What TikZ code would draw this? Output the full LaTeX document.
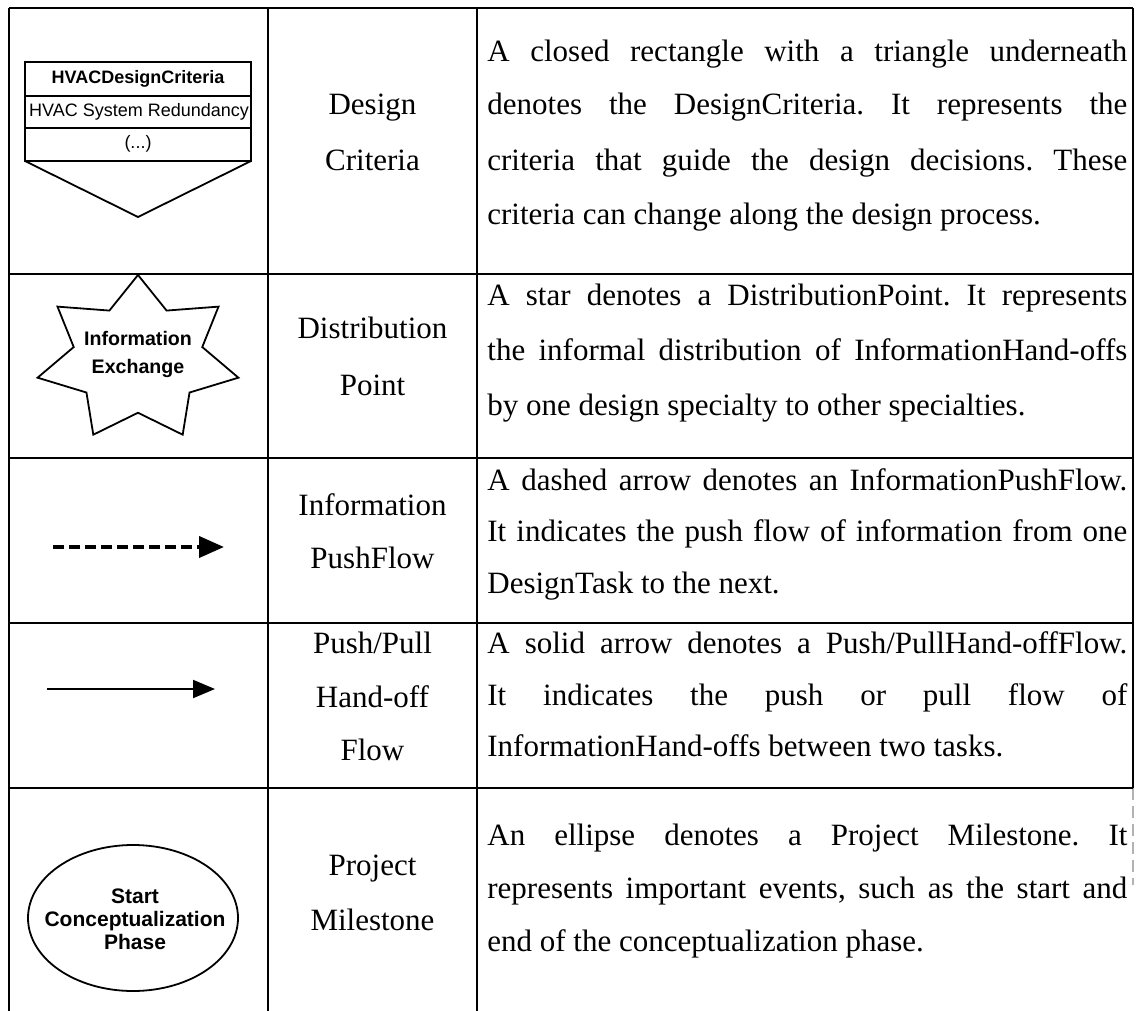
\documentclass[tikz,border=0pt]{standalone}
\usepackage{fontspec}
\setmainfont{Liberation Serif}
\newfontfamily\sansf{Liberation Sans}
\usetikzlibrary{arrows.meta,shapes.geometric}
\newcommand{\jl}[1]{\makebox[320pt][s]{#1}}
\frenchspacing
\begin{document}
\begin{tikzpicture}[x=0.5pt,y=-0.5pt,
  gridline/.style={line width=1.2pt,black},
  shapeline/.style={line width=0.9pt,black},
  body/.style={inner sep=0pt,font=\fontsize{15.5pt}{18pt}\selectfont},
  bodyl/.style={body,anchor=base west},
  bodyc/.style={body,anchor=base},
  sansreg/.style={inner sep=0pt,font=\sansf\fontsize{9pt}{10pt}\selectfont},
  sansbold/.style={inner sep=0pt,font=\sansf\bfseries\fontsize{9pt}{10pt}\selectfont},
  dasharrow/.style={line width=2pt,dash pattern=on 5.3pt off 2.7pt,-{Triangle[length=12.5pt,width=10.5pt]}},
  solidarrow/.style={line width=1pt,-{Triangle[length=11pt,width=9pt]}}]
\useasboundingbox (0,0) rectangle (1136,1011);
% grid
\draw[gridline] (9,8) -- (1133,8);
\draw[gridline] (9,1011) -- (9,8);
\draw[gridline] (268,1011) -- (268,8);
\draw[gridline] (477,1011) -- (477,8);
\draw[gridline] (1133,8) -- (1133,788);
\draw[gray!60,line width=0.6pt,dash pattern=on 6pt off 3pt] (1133,788) -- (1133,885);
\foreach \yy in {274,458,623,788} {\draw[gridline] (9,\yy) -- (1133,\yy);}

% row 1 symbol: design criteria
\draw[shapeline] (25,62) rectangle (251,161);
\draw[shapeline] (25,96) -- (251,96);
\draw[shapeline] (25,128) -- (251,128);
\draw[shapeline] (25,161) -- (138,217) -- (251,161);
\node[sansbold] (dct) at (138,79) {HVACDesignCriteria};
\node[sansreg] (dcr) at (139,112) {HVAC System Redundancy};
\node[sansreg] (dce) at (138,144) {(...)};

% row 2 symbol: star
\draw[shapeline] ([shift={(-90:103 and 84)}]138,359)
  \foreach \k in {1,...,13} { -- ([shift={({-90+\k*360/14}:{103*(1-0.36*mod(\k,2))} and {84*(1-0.36*mod(\k,2))})}]138,359) } -- cycle;
\node[inner sep=0pt,align=center,font=\sansf\bfseries\fontsize{9.8pt}{14pt}\selectfont] (star) at (138,354) {Information\\Exchange};

% row 3 symbol: dashed arrow
\coordinate (da1) at (53,547); \coordinate (da2) at (224,547);
\draw[dasharrow] (da1) -- (da2);

% row 4 symbol: solid arrow
\coordinate (sa1) at (47,689); \coordinate (sa2) at (215,689);
\draw[solidarrow] (sa1) -- (sa2);

% row 5 symbol: ellipse
\draw[shapeline] (133,918) ellipse [x radius=105, y radius=73];
\node[inner sep=0pt,align=center,
  font=\sansf\bfseries\fontsize{10.5pt}{11.5pt}\selectfont] (mile) at (135,919) {Start\\Conceptualization\\Phase};

% column 2
\node[bodyc] (n1a) at (372.5,115) {Design};
\node[bodyc] (n1b) at (372.5,170) {Criteria};
\node[bodyc] (n2a) at (372.5,338) {Distribution};
\node[bodyc] (n2b) at (372.5,395) {Point};
\node[bodyc] (n3a) at (372.5,515) {Information};
\node[bodyc] (n3b) at (372.5,568) {PushFlow};
\node[bodyc] (n4a) at (372.5,653) {Push/Pull};
\node[bodyc] (n4b) at (372.5,707) {Hand-off};
\node[bodyc] (n4c) at (372.5,760) {Flow};
\node[bodyc] (n5a) at (372.5,875) {Project};
\node[bodyc] (n5b) at (372.5,930) {Milestone};

% column 3
\node[bodyl] (d1a) at (487,62) {\jl{A closed rectangle with a triangle underneath}};
\node[bodyl] (d1b) at (487,115) {\jl{denotes the DesignCriteria. It represents the}};
\node[bodyl] (d1c) at (487,170) {\jl{criteria that guide the design decisions. These}};
\node[bodyl] (d1d) at (487,225) {criteria can change along the design process.};

\node[bodyl] (d2a) at (487,305) {\jl{A star denotes a DistributionPoint. It represents}};
\node[bodyl] (d2b) at (487,360) {\jl{the informal distribution of InformationHand-offs}};
\node[bodyl] (d2c) at (487,415) {by one design specialty to other specialties.};

\node[bodyl] (d3a) at (487,490) {\jl{A dashed arrow denotes an InformationPushFlow.}};
\node[bodyl] (d3b) at (487,541) {\jl{It indicates the push flow of information from one}};
\node[bodyl] (d3c) at (487,593) {DesignTask to the next.};

\node[bodyl] (d4a) at (487,653) {\jl{A solid arrow denotes a Push/PullHand-offFlow.}};
\node[bodyl] (d4b) at (487,705) {\jl{It indicates the push or pull flow of}};
\node[bodyl] (d4c) at (487,756) {InformationHand-offs between two tasks.};

\node[bodyl] (d5a) at (487,845) {\jl{An ellipse denotes a Project Milestone. It}};
\node[bodyl] (d5b) at (487,898) {\jl{represents important events, such as the start and}};
\node[bodyl] (d5c) at (487,951) {end of the conceptualization phase.};
\end{tikzpicture}
\end{document}
